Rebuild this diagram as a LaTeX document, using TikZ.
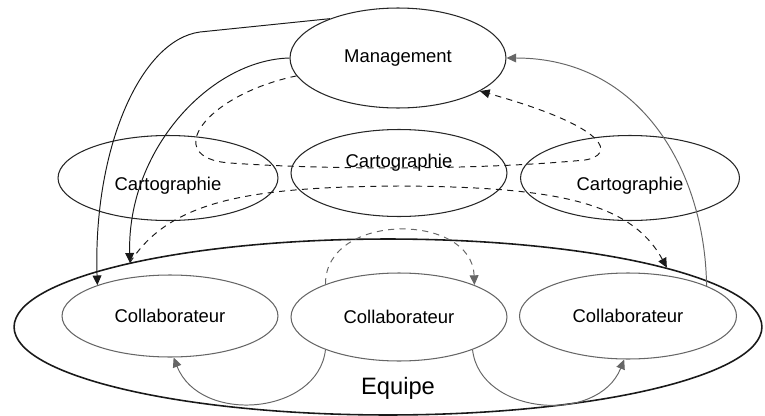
\documentclass[tikz,border=0pt]{standalone}
\usepackage{fontspec}
\setmainfont{Liberation Sans}
\usepackage{tikz}
\usetikzlibrary{arrows.meta,shapes.geometric}

\begin{document}
\begin{tikzpicture}[
  font=\fontsize{10.5}{12}\selectfont,
  x=0.02cm,
  y=-0.02cm,
  oval/.style={
    ellipse,
    draw=black!85,
    line width=0.6pt,
    inner sep=0pt
  },
  grayoval/.style={oval,draw=black!60},
  teamoval/.style={oval,draw=black!90,line width=0.9pt},
  label/.style={inner sep=0pt},
  arrow/.style={-{Triangle[length=5.5pt,width=5pt]},draw=black!90,line width=0.55pt},
  grayarrow/.style={arrow,draw=black!60},
  dasharrow/.style={arrow,dash pattern=on 3.5pt off 3pt},
  graydasharrow/.style={grayarrow,dash pattern=on 3.5pt off 3pt}
]
\useasboundingbox (0,0) rectangle (765,416);

% Team container.
\node[teamoval,minimum width=14.96cm,minimum height=3.52cm] (team) at (388,327) {};
\node[label,font=\fontsize{13.5}{15}\selectfont] (teamtxt) at (398,388) {Equipe};

% Management and maps.
\node[oval,minimum width=4.32cm,minimum height=2.0cm] (mgmt) at (398,58) {Management};
\node[oval,minimum width=4.4cm,minimum height=1.7cm] (cartoL) at (168,178) {};
\node[oval,minimum width=4.32cm,minimum height=1.74cm] (cartoM) at (399,173) {};
\node[oval,minimum width=4.38cm,minimum height=1.7cm] (cartoR) at (630,178) {};
\node[label] (cartoLtxt) at (168,186) {Cartographie};
\node[label] (cartoMtxt) at (399,163) {Cartographie};
\node[label] (cartoRtxt) at (630,186) {Cartographie};

% Collaborators.
\node[grayoval,minimum width=4.32cm,minimum height=1.64cm] (collabL) at (170,316) {Collaborateur};
\node[grayoval,minimum width=4.32cm,minimum height=1.76cm] (collabM) at (399,317) {Collaborateur};
\node[grayoval,minimum width=4.34cm,minimum height=1.72cm] (collabR) at (628,316) {Collaborateur};

% Management towards the team.
\draw[arrow] (mgmt.150) -- (200,32) .. controls (140,40) and (93,150) .. (collabL.157);
\draw[arrow] (mgmt.180) .. controls (210,60) and (127,150) .. (team.166);
\draw[grayarrow] (collabR.21) .. controls (705,170) and (640,58) .. (mgmt.east);

% Map exchanges.
\draw[dasharrow] (mgmt.190) .. controls (205,95) and (160,158) .. (230,163)
  .. controls (330,170) and (480,170) .. (585,160)
  .. controls (615,155) and (612,128) .. (mgmt.-22);
\draw[dasharrow] (team.166) .. controls (170,200) and (250,187) .. (399,186)
  .. controls (550,187) and (630,200) .. (team.12);

% Between collaborators.
\draw[graydasharrow] (collabM.156) .. controls (325,212) and (472,212) .. (collabM.23);
\draw[grayarrow] (collabM.204) .. controls (318,415) and (200,425) .. (collabL.-85);
\draw[grayarrow] (collabM.-24) .. controls (480,415) and (598,425) .. (collabR.-95);

\end{tikzpicture}
\end{document}
